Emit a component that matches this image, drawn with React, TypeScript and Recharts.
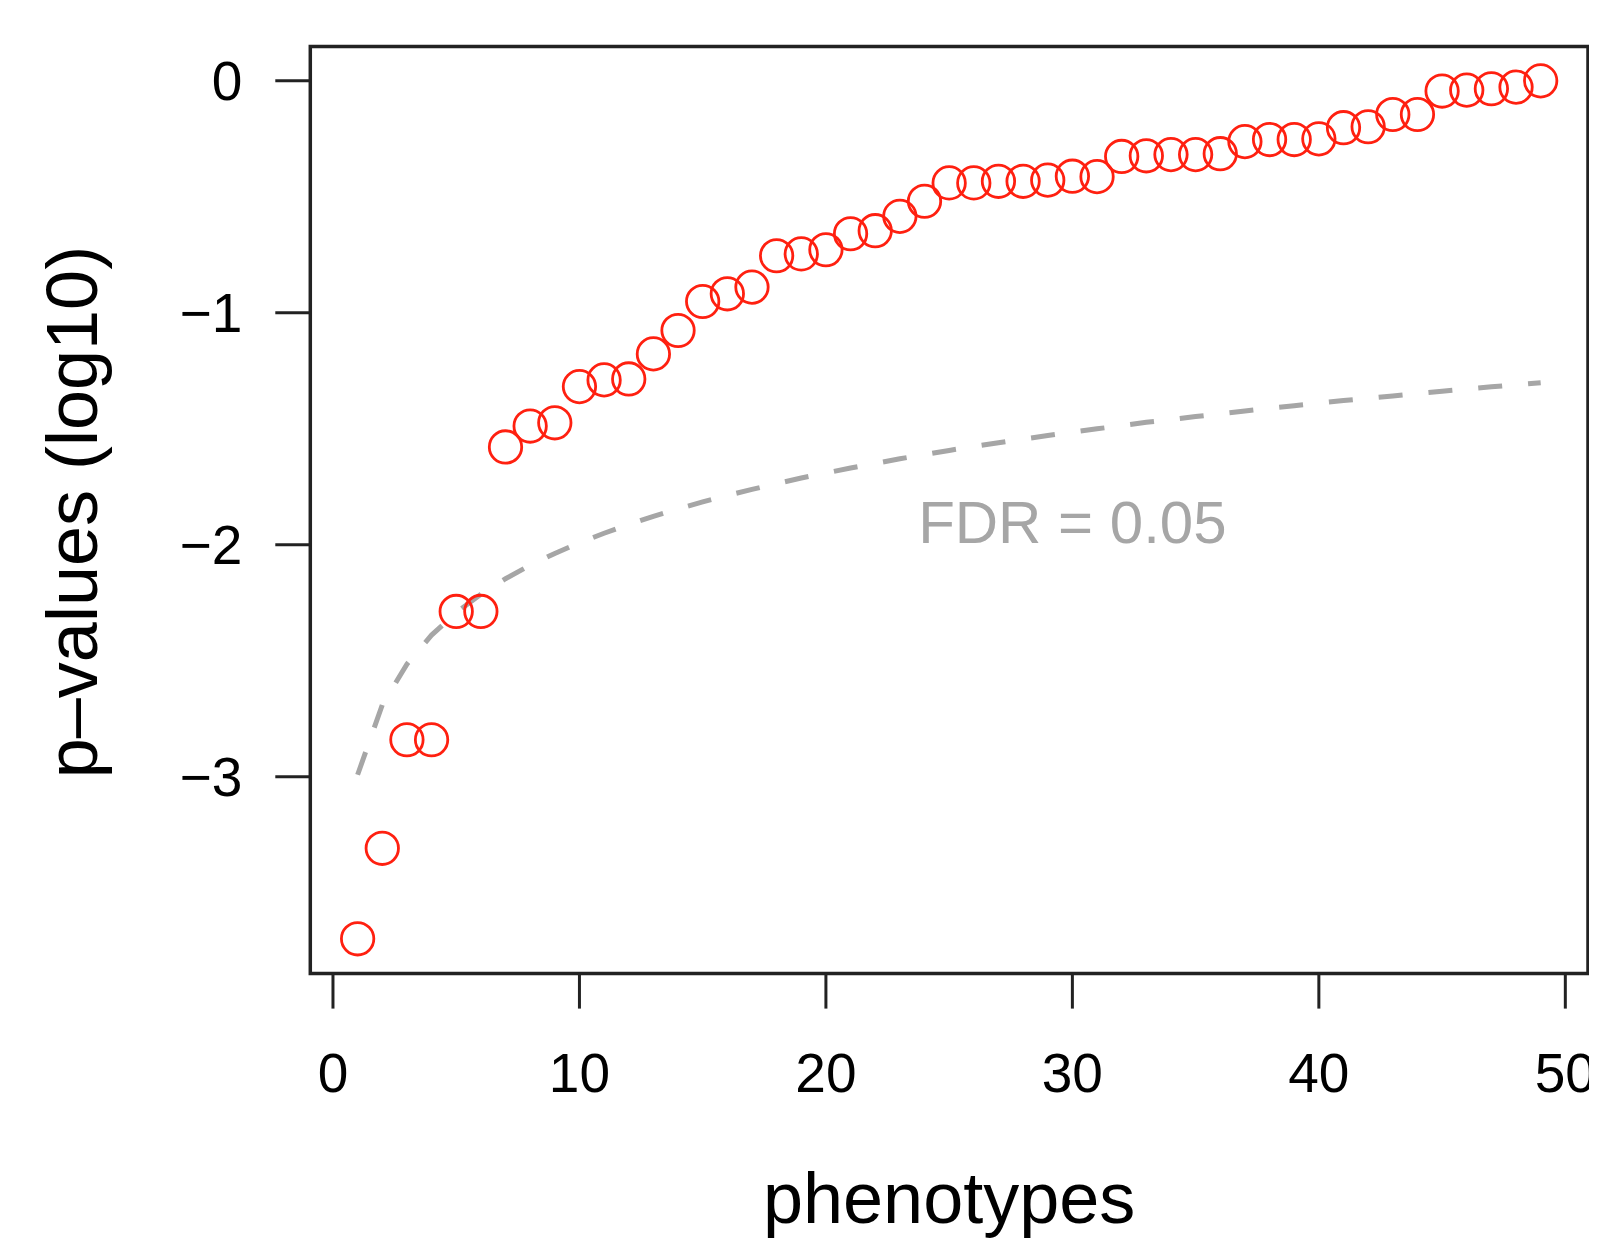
import React from 'react';
import {
  ComposedChart,
  XAxis,
  YAxis,
  Scatter,
  Line,
  ReferenceArea,
  ReferenceDot,
  Label,
} from 'recharts';

const FONT = '"Liberation Sans", Arial, Helvetica, sans-serif';

// phenotype index (x)
const phenotypes = [
  1, 2, 3, 4, 5, 6, 7, 8, 9, 10, 11, 12, 13, 14, 15, 16, 17, 18, 19, 20, 21, 22, 23, 24, 25,
  26, 27, 28, 29, 30, 31, 32, 33, 34, 35, 36, 37, 38, 39, 40, 41, 42, 43, 44, 45, 46, 47, 48, 49,
];

// sorted p-values (log10)
const pValues = [
  -3.698, -3.308, -2.84, -2.84, -2.287, -2.287, -1.578, -1.488, -1.474, -1.318, -1.289, -1.285,
  -1.177, -1.076, -0.951, -0.918, -0.889, -0.754, -0.746, -0.728, -0.659, -0.646, -0.584, -0.519,
  -0.44, -0.44, -0.433, -0.433, -0.428, -0.411, -0.413, -0.326, -0.323, -0.318, -0.318, -0.314,
  -0.262, -0.253, -0.253, -0.25, -0.202, -0.198, -0.145, -0.145, -0.044, -0.04, -0.034, -0.027, 0.0,
];

// FDR = 0.05 threshold line (log10)
const fdrThreshold = [
  -2.991, -2.69, -2.514, -2.389, -2.292, -2.213, -2.146, -2.088, -2.037, -1.991, -1.95, -1.912,
  -1.877, -1.845, -1.815, -1.787, -1.761, -1.736, -1.712, -1.69, -1.669, -1.649, -1.629, -1.611,
  -1.593, -1.576, -1.56, -1.544, -1.529, -1.514, -1.5, -1.486, -1.472, -1.46, -1.447, -1.435,
  -1.423, -1.411, -1.4, -1.389, -1.378, -1.368, -1.358, -1.348, -1.338, -1.328, -1.319, -1.31, -1.301,
];

const xTicks = [0, 10, 20, 30, 40, 50];
const yTicks = [-3, -2, -1, 0];

const xDomain: [number, number] = [-0.92, 50.92];
const yDomain: [number, number] = [-3.848, 0.148];

const data = phenotypes.map((x, i) => ({ x, p: pValues[i], fdr: fdrThreshold[i] }));

const Ring = (props: any) => {
  const { cx, cy } = props;
  if (cx == null || cy == null) return null;
  return <circle cx={cx} cy={cy} r={16.2} fill="none" stroke="#FF2010" strokeWidth={2.8} />;
};

const fmtY = (v: number) => (v < 0 ? '\u2212' + Math.abs(v) : String(v));

const YTitle = (props: any) => {
  const vb = props.viewBox || {};
  const cx = 88.7;
  const cy = vb.y + vb.height / 2 + 2;
  return (
    <text
      x={cx}
      y={cy}
      transform={`rotate(-90 ${cx} ${cy})`}
      textAnchor="middle"
      fontFamily={FONT}
      fontSize={72}
      fill="#000"
    >
      p–values (log10)
    </text>
  );
};

const XTitle = (props: any) => {
  const vb = props.viewBox || {};
  const cx = vb.x + vb.width / 2;
  const cy = vb.y + 249;
  return (
    <text x={cx} y={cy} textAnchor="middle" fontFamily={FONT} fontSize={72} fill="#000">
      phenotypes
    </text>
  );
};

export default function App() {
  return (
    <div style={{ width: 1589, height: 1230, overflow: 'hidden', background: '#fff' }}>
      <ComposedChart
        width={1589}
        height={1230}
        data={data}
        margin={{ top: 38.5, right: 9, bottom: 64.4, left: 0 }}
      >
        <XAxis
          type="number"
          dataKey="x"
          domain={xDomain}
          allowDataOverflow
          ticks={xTicks}
          interval={0}
          height={200}
          axisLine={false}
          tickSize={35}
          tickMargin={44}
          tickLine={{ stroke: '#222', strokeWidth: 3 }}
          tick={{ fill: '#000', fontSize: 55, fontFamily: FONT }}
        >
          <Label content={XTitle} />
        </XAxis>
        <YAxis
          type="number"
          domain={yDomain}
          allowDataOverflow
          ticks={yTicks}
          interval={0}
          width={302.3}
          axisLine={false}
          tickSize={35}
          tickMargin={33}
          tickFormatter={fmtY}
          tickLine={{ stroke: '#222', strokeWidth: 3 }}
          tick={{ fill: '#000', fontSize: 55, fontFamily: FONT }}
        >
          <Label content={YTitle} />
        </YAxis>
        <ReferenceArea
          x1={xDomain[0]}
          x2={xDomain[1]}
          y1={yDomain[0]}
          y2={yDomain[1]}
          fill="none"
          fillOpacity={0}
          stroke="#222"
          strokeWidth={3.5}
          ifOverflow="visible"
        />
        <Scatter dataKey="p" shape={Ring} isAnimationActive={false} />
        <Line
          type="linear"
          dataKey="fdr"
          stroke="#A6A6A6"
          strokeWidth={5}
          strokeDasharray="24 26"
          dot={false}
          activeDot={false}
          isAnimationActive={false}
        />
        <ReferenceDot
          x={30}
          y={-1.9}
          r={0}
          fill="none"
          stroke="none"
          ifOverflow="visible"
          label={{
            value: 'FDR = 0.05',
            position: 'center',
            fill: '#A6A6A6',
            fontSize: 60,
            fontFamily: FONT,
          }}
        />
      </ComposedChart>
    </div>
  );
}
